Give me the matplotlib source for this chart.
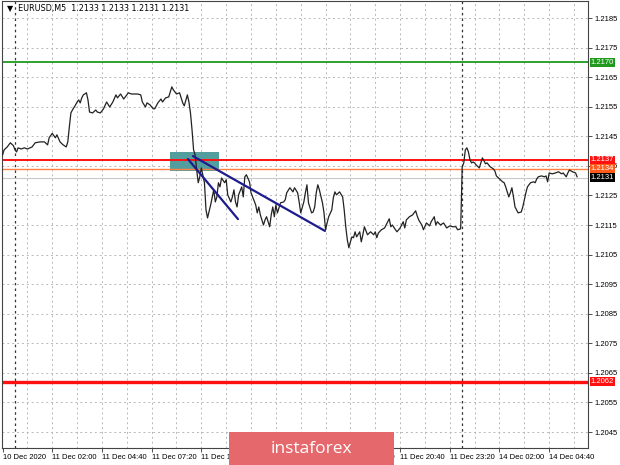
import matplotlib
matplotlib.use("Agg")
import matplotlib.pyplot as plt
import matplotlib.transforms as mtransforms
from matplotlib.patches import Rectangle

plt.rcParams['font.family'] = ['Liberation Sans', 'DejaVu Sans']

# EURUSD M5 closes, x = bar index counted from 11 Dec 00:00 (weekend skipped)
bars = [-8, -7, -5, -3, -1, 0, 1, 2, 4, 6, 8, 11, 13, 16, 19, 21, 22, 24, 26, 27,
        29, 31, 33, 34, 35, 36, 37, 39, 40, 41, 42, 43, 44, 46, 47, 48, 50, 52, 53, 55,
        57, 59, 61, 63, 65, 66, 68, 70, 72, 73, 75, 79, 81, 82, 84, 85, 87, 89, 90, 92,
        94, 95, 97, 99, 101, 102, 104, 106, 108, 109, 111, 112, 113, 114, 115, 116, 117, 118, 119, 120,
        122, 123, 124, 126, 128, 129, 130, 131, 132, 133, 135, 136, 137, 139, 140, 141, 142, 143, 144, 146,
        147, 148, 149, 151, 152, 153, 155, 156, 157, 158, 160, 161, 162, 164, 165, 166, 167, 168, 169, 171,
        173, 174, 175, 177, 179, 180, 182, 183, 184, 186, 187, 188, 189, 191, 192, 193, 194, 195, 196, 198,
        199, 200, 201, 202, 204, 205, 206, 207, 209, 211, 212, 213, 214, 215, 216, 217, 218, 219, 220, 222,
        223, 224, 225, 227, 229, 231, 232, 233, 234, 236, 238, 240, 241, 242, 243, 245, 246, 248, 250, 251,
        252, 254, 256, 258, 259, 260, 262, 263, 265, 267, 268, 270, 271, 272, 274, 276, 278, 280, 282, 284,
        285, 287, 288, 289, 290, 291, 292, 293, 294, 295, 296, 297, 299, 300, 301, 303, 304, 306, 308, 309,
        310, 312, 314, 315, 316, 317, 318, 319, 320, 321, 322, 323, 324, 326, 327, 328, 329, 330, 332, 334,
        335, 336, 337, 339, 341, 342, 343, 344, 346, 348, 350, 352, 353, 355, 356, 357, 359, 361, 362]
close = [1.21387, 1.21404, 1.21414, 1.21428, 1.21418, 1.21404, 1.21397, 1.21411, 1.21407, 1.21411,
         1.21407, 1.21414, 1.21428, 1.21431, 1.21431, 1.21421, 1.21445, 1.21460, 1.21445, 1.21455,
         1.21431, 1.21421, 1.21414, 1.21431, 1.21482, 1.21529, 1.21539, 1.21556, 1.21566, 1.21573,
         1.21563, 1.21580, 1.21590, 1.21597, 1.21573, 1.21532, 1.21529, 1.21539, 1.21532, 1.21529,
         1.21543, 1.21566, 1.21549, 1.21566, 1.21590, 1.21580, 1.21593, 1.21576, 1.21590, 1.21597,
         1.21593, 1.21593, 1.21590, 1.21566, 1.21549, 1.21563, 1.21556, 1.21543, 1.21543, 1.21563,
         1.21576, 1.21566, 1.21580, 1.21583, 1.21617, 1.21607, 1.21593, 1.21597, 1.21563, 1.21553,
         1.21590, 1.21566, 1.21529, 1.21472, 1.21404, 1.21387, 1.21336, 1.21293, 1.21313, 1.21343,
         1.21293, 1.21201, 1.21174, 1.21218, 1.21269, 1.21228, 1.21245, 1.21293, 1.21279, 1.21309,
         1.21293, 1.21303, 1.21252, 1.21228, 1.21245, 1.21269, 1.21228, 1.21211, 1.21252, 1.21279,
         1.21245, 1.21313, 1.21320, 1.21296, 1.21259, 1.21245, 1.21218, 1.21191, 1.21211, 1.21184,
         1.21150, 1.21167, 1.21178, 1.21144, 1.21184, 1.21211, 1.21178, 1.21218, 1.21191, 1.21225,
         1.21228, 1.21235, 1.21259, 1.21276, 1.21262, 1.21276, 1.21259, 1.21228, 1.21191, 1.21228,
         1.21259, 1.21286, 1.21225, 1.21191, 1.21194, 1.21211, 1.21259, 1.21286, 1.21269, 1.21225,
         1.21191, 1.21134, 1.21157, 1.21178, 1.21201, 1.21242, 1.21262, 1.21252, 1.21262, 1.21245,
         1.21201, 1.21144, 1.21100, 1.21073, 1.21093, 1.21110, 1.21107, 1.21127, 1.21110, 1.21127,
         1.21093, 1.21117, 1.21144, 1.21117, 1.21127, 1.21117, 1.21127, 1.21107, 1.21123, 1.21134,
         1.21140, 1.21161, 1.21171, 1.21144, 1.21150, 1.21134, 1.21127, 1.21140, 1.21161, 1.21140,
         1.21167, 1.21178, 1.21184, 1.21198, 1.21181, 1.21167, 1.21150, 1.21134, 1.21157, 1.21147,
         1.21161, 1.21178, 1.21150, 1.21161, 1.21150, 1.21157, 1.21140, 1.21147, 1.21144, 1.21144,
         1.21134, 1.21137, 1.21347, 1.21360, 1.21404, 1.21411, 1.21397, 1.21370, 1.21360, 1.21363,
         1.21360, 1.21353, 1.21343, 1.21360, 1.21377, 1.21357, 1.21360, 1.21347, 1.21340, 1.21333,
         1.21316, 1.21306, 1.21296, 1.21293, 1.21279, 1.21262, 1.21245, 1.21259, 1.21276, 1.21245,
         1.21211, 1.21201, 1.21191, 1.21194, 1.21211, 1.21235, 1.21259, 1.21279, 1.21293, 1.21296,
         1.21293, 1.21306, 1.21313, 1.21316, 1.21313, 1.21316, 1.21296, 1.21326, 1.21323, 1.21326,
         1.21330, 1.21323, 1.21326, 1.21313, 1.21326, 1.21336, 1.21330, 1.21326, 1.21313]

# horizontal levels and their price tags
level_prices = [1.2170, 1.2137, 1.2134, 1.2131, 1.2062]
level_labels = ['1.2170', '1.2137', '1.2134', '1.2131', '1.2062']
level_colors = ['#1f9a1f', '#ff1010', '#ff8040', '#c8c8c8', '#ff1010']
tag_colors = ['#1f9a1f', '#ff1010', '#ff5a1a', '#000000', '#ff1010']
level_widths = [1.3, 1.4, 1.0, 0.8, 2.4]

# drawn objects: box and two trend lines
box_bars = [99.8, 131.4]
box_prices = [1.21333, 1.21397]
trend_bars = [[111.4, 143.6], [114.6, 199.6]]
trend_prices = [[1.21373, 1.21170], [1.21383, 1.21130]]

y_ticks = [1.2045, 1.2055, 1.2065, 1.2075, 1.2085, 1.2095, 1.2105, 1.2115,
           1.2125, 1.2135, 1.2145, 1.2155, 1.2165, 1.2175, 1.2185]
x_ticks = [-8, 24, 56, 88, 120, 152, 184, 216, 248, 280, 312, 344]
x_labels = ['10 Dec 2020', '11 Dec 02:00', '11 Dec 04:40', '11 Dec 07:20', '11 Dec 10:00',
            '11 Dec 12:40', '11 Dec 15:20', '11 Dec 18:00', '11 Dec 20:40', '11 Dec 23:20',
            '14 Dec 02:00', '14 Dec 04:40']
day_breaks = [0, 288]

fig = plt.figure(figsize=(6.2, 4.65), dpi=100)
ax = fig.add_axes([2 / 620, 17 / 465, 586 / 620, 447 / 465])

ax.set_xlim(-8.37, 369.0)
ax.set_ylim(1.203959, 1.219075)

# grid
for b in range(8, 369, 16):
    ax.axvline(b, color='#b8b8b8', lw=0.7, ls=(0, (2, 3)), zorder=0)
for p in y_ticks:
    ax.axhline(p, color='#b8b8b8', lw=0.7, ls=(0, (2, 3)), zorder=0)
for b in day_breaks:
    ax.axvline(b, color='#333333', lw=0.9, ls=(0, (2, 2.5)), zorder=1)

ax.add_patch(Rectangle((box_bars[0], box_prices[0]), box_bars[1] - box_bars[0],
                       box_prices[1] - box_prices[0], facecolor='#529e9e',
                       edgecolor='none', zorder=1.5))

for p, c, w in zip(level_prices, level_colors, level_widths):
    ax.axhline(p, color=c, lw=w, zorder=2)

ax.plot(bars, close, color='#222222', lw=0.9, zorder=3)

for tb, tp in zip(trend_bars, trend_prices):
    ax.plot(tb, tp, color='#1c1c8c', lw=1.6, zorder=4, solid_capstyle='round')

# axes styling like a terminal chart
ax.yaxis.tick_right()
ax.set_yticks(y_ticks)
ax.set_yticklabels([f'{v:.4f}' for v in y_ticks])
ax.set_xticks(x_ticks)
ax.set_xticklabels(x_labels, ha='left')
ax.tick_params(axis='both', labelsize=5.5, length=3, width=0.6, color='#333333', pad=1.5)
ax.tick_params(axis='y', pad=1.5)
for s in ax.spines.values():
    s.set_color('#444444')
    s.set_linewidth(0.8)

# price tags on the right scale
trans = mtransforms.blended_transform_factory(ax.transAxes, ax.transData)
for p, lab, c in zip(level_prices, level_labels, tag_colors):
    ax.text(1.005, p, lab, transform=trans, ha='left', va='center', fontsize=5.5,
            color='white', clip_on=False, zorder=10,
            bbox=dict(boxstyle='square,pad=0.12', facecolor=c, edgecolor='none'))

ax.text(5 / 586, 1 - 7 / 447, '\u25bc  EURUSD,M5  1.2133 1.2133 1.2131 1.2131',
        transform=ax.transAxes, ha='left', va='center', fontsize=5.8,
        family=['DejaVu Sans'], color='black', zorder=10)

# watermark logo
fig.patches.append(Rectangle((229 / 620, 0), 165 / 620, 33 / 465,
                             transform=fig.transFigure, facecolor='#e4686c',
                             edgecolor='none', zorder=20))
fig.text(311 / 620, 16 / 465, 'instaforex', ha='center', va='center',
         fontsize=12.5, color='white', family=['Open Sans', 'DejaVu Sans'], zorder=21)

fig.savefig('out.png', dpi=100, facecolor='white')
